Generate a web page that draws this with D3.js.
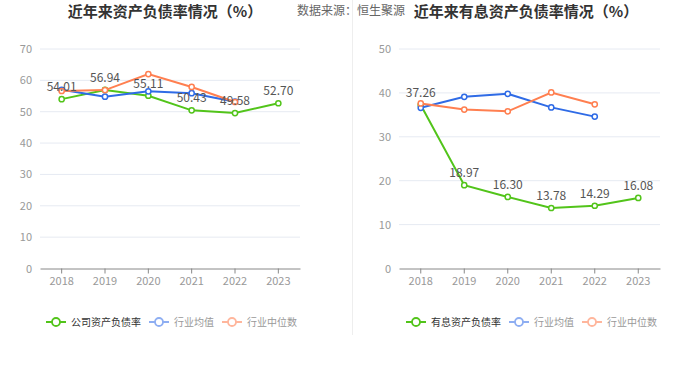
<!DOCTYPE html>
<html>
<head>
<meta charset="utf-8">
<script src="https://cdn.jsdelivr.net/npm/d3@7"></script>
<style>
  body { margin: 0; background: #fff; }
  svg { font-family: "Noto Sans CJK SC", "Noto Sans", sans-serif; }
  .grid { stroke: #e6eaf2; stroke-width: 1; }
  .tick-label { fill: #999; font-size: 11px; }
  .val-label { fill: #555; font-size: 12px; }
  .title { fill: #333; font-size: 15px; font-weight: bold; }
</style>
</head>
<body>
<svg id="chart" width="700" height="377"></svg>
<script>
const years = ['2018', '2019', '2020', '2021', '2022', '2023'];

const debtRatio      = [54.01, 56.94, 55.11, 50.43, 49.58, 52.70];
const debtIndAvg     = [57.0, 54.8, 56.5, 55.9, 53.2, null];
const debtIndMedian  = [56.6, 56.9, 62.0, 57.9, 53.1, null];

const ibRatio        = [37.26, 18.97, 16.30, 13.78, 14.29, 16.08];
const ibIndAvg       = [36.6, 39.1, 39.8, 36.7, 34.6, null];
const ibIndMedian    = [37.6, 36.2, 35.8, 40.1, 37.4, null];

const leftTicks  = [0, 10, 20, 30, 40, 50, 60, 70];
const rightTicks = [0, 10, 20, 30, 40, 50];

const GREEN = '#52c41a', BLUE = '#2f6be6', ORANGE = '#ff7f50';
const svg = d3.select('#chart');

// divider between the two panels
svg.append('line').attr('x1', 352.5).attr('x2', 352.5).attr('y1', 0).attr('y2', 335)
  .attr('stroke', '#eeeeee');

svg.append('text').attr('class', 'title').attr('x', 165).attr('y', 17)
  .attr('text-anchor', 'middle').text('近年来资产负债率情况（%）');
svg.append('text').attr('x', 297).attr('y', 15).attr('fill', '#666').attr('font-size', 12)
  .text('数据来源：恒生聚源');
svg.append('text').attr('class', 'title').attr('x', 526).attr('y', 17)
  .attr('text-anchor', 'middle').text('近年来有息资产负债率情况（%）');

function panel(opt) {
  const x = d3.scaleBand().domain(years).range([opt.x0, opt.x1]);
  const y = d3.scaleLinear().domain([0, opt.max]).range([268.5, 49]);
  const g = svg.append('g');
  const cx = (i) => x(years[i]) + x.bandwidth() / 2;

  opt.ticks.forEach((t) => {
    if (t > 0) g.append('line').attr('class', 'grid')
      .attr('x1', opt.x0).attr('x2', opt.x1).attr('y1', y(t)).attr('y2', y(t));
    g.append('text').attr('class', 'tick-label').attr('x', opt.x0 - 8).attr('y', y(t) + 4)
      .attr('text-anchor', 'end').text(t);
  });

  const ax = g.append('g').attr('transform', 'translate(0,268.5)')
    .call(d3.axisBottom(x).tickSize(5).tickPadding(4).tickSizeOuter(0));
  ax.select('.domain').attr('stroke', '#888');
  ax.selectAll('.tick line').attr('stroke', '#888');
  ax.selectAll('.tick text').attr('fill', '#999').attr('font-size', 11)
    .attr('font-family', '"Noto Sans CJK SC", sans-serif');

  const line = d3.line().defined((d) => d != null).x((d, i) => cx(i)).y((d) => y(d));
  const series = [
    { vals: opt.main, color: GREEN },
    { vals: opt.avg, color: BLUE },
    { vals: opt.med, color: ORANGE }
  ];
  series.forEach((s) => {
    g.append('path').datum(s.vals).attr('d', line).attr('fill', 'none')
      .attr('stroke', s.color).attr('stroke-width', 2);
    s.vals.forEach((v, i) => {
      if (v == null) return;
      g.append('circle').attr('cx', cx(i)).attr('cy', y(v)).attr('r', 2.6)
        .attr('fill', '#fff').attr('stroke', s.color).attr('stroke-width', 1.5);
    });
  });

  opt.main.forEach((v, i) => {
    g.append('text').attr('class', 'val-label').attr('x', cx(i)).attr('y', y(v) - 8)
      .attr('text-anchor', 'middle').text(v.toFixed(2));
  });

  // legend
  const items = [
    { name: opt.mainName, color: GREEN, txt: '#333' },
    { name: '行业均值', color: '#8eaef2', txt: '#999' },
    { name: '行业中位数', color: '#ffb69c', txt: '#999' }
  ];
  let lx = opt.legendX;
  items.forEach((it) => {
    const lg = g.append('g').attr('transform', `translate(${lx},322)`);
    lg.append('line').attr('x1', 0).attr('x2', 20).attr('stroke', it.color).attr('stroke-width', 2);
    lg.append('circle').attr('cx', 10).attr('r', 4).attr('fill', '#fff')
      .attr('stroke', it.color).attr('stroke-width', 1.8);
    const t = lg.append('text').attr('x', 25).attr('y', 3.5).attr('font-size', 10)
      .attr('fill', it.txt).text(it.name);
    lx += 25 + t.node().getComputedTextLength() + 8;
  });
}

panel({ x0: 40, x1: 300, max: 70, ticks: leftTicks, main: debtRatio, avg: debtIndAvg,
  med: debtIndMedian, mainName: '公司资产负债率', legendX: 46 });
panel({ x0: 399, x1: 660, max: 50, ticks: rightTicks, main: ibRatio, avg: ibIndAvg,
  med: ibIndMedian, mainName: '有息资产负债率', legendX: 406 });
</script>
</body>
</html>
